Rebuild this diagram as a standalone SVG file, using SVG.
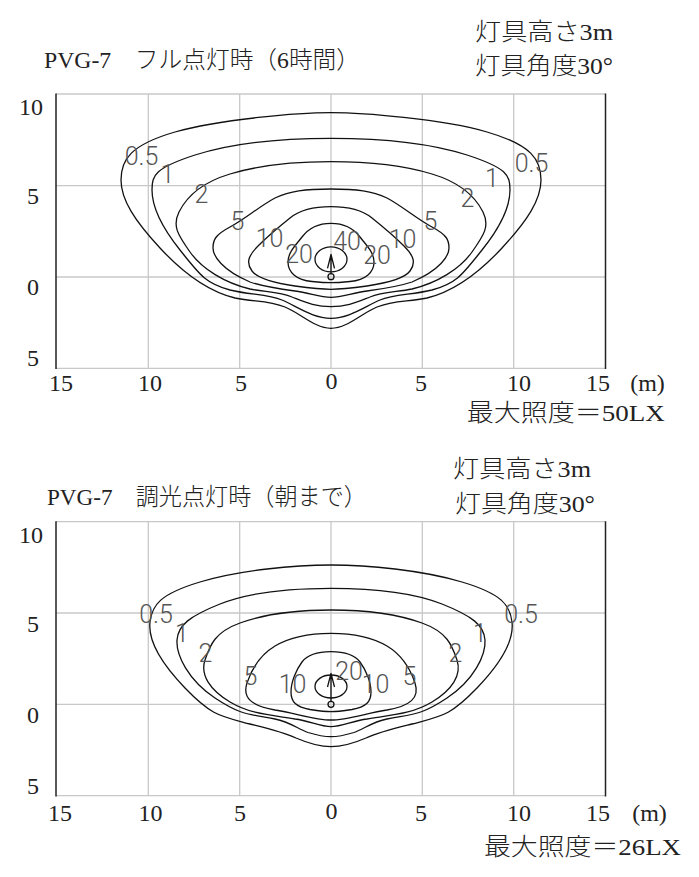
<svg xmlns="http://www.w3.org/2000/svg" width="699" height="877" viewBox="0 0 699 877">
<style>
.t{font-family:"Liberation Serif","Noto Sans CJK JP",serif;font-weight:300;fill:#222}
.ax{font-family:"Liberation Serif",serif;font-size:24px;fill:#222;text-anchor:middle}
.lb{font-family:Roboto,"Liberation Sans",sans-serif;font-weight:300;font-size:25px;fill:#555;text-anchor:middle}
.grid{stroke:#c8c8c8;stroke-width:1.3;fill:none}
.axis{stroke:#222;stroke-width:1.5}
.c{fill:none;stroke:#111;stroke-width:1.3;stroke-linejoin:round}
</style>
<defs>
<path id="a05" d="M331,112.7 C300,112.7 220,119 175,132 S121,160 121,180 S135,221 160,248 S210,292 235,298 C255,302 268,300 285,307 C300,313 315,328.3 331,328.3"/>
<path id="a1" d="M331,138.3 C290,138.3 235,142 195,155 S152,175 152,190 S160,225 180,250 S205,283 230,290 C250,295 268,294 282,300 C298,307 313,318.3 331,318.3"/>
<path id="a2" d="M331,161.7 C300,161.7 260,165 230,174 S186,198 179,212 S178,235 190,252 S225,283 250,289 C265,292 280,292 292,297 C305,302 315,306.7 331,306.7"/>
<path id="a5" d="M331,189 C305,189 290,191 275,198 C260,206 245,219 230,227 S213,240 213,248 S222,270 250,282 C265,287 280,289 295,291 C310,293 320,297.3 331,297.3"/>
<path id="a10" d="M331,206.7 C315,206.7 300,210 290,218 C280,226 268,236 258,246 S246,263 252,271 S275,283 295,286 C310,288 320,289.3 331,289.3"/>
<path id="a20" d="M331,223.3 C318,223.3 308,229 302,237 S288,252 288,262 S296,280 312,281.5 C320,282.3 326,282.7 331,282.7"/>
<path id="b05" d="M331,565 C295,565 240,570 200,582 S152,605 150,622 S158,660 185,688 S220,716 250,724 C270,729 283,732 296,738 C310,744 320,746.7 331,746.7"/>
<path id="b1" d="M331,588.3 C295,588.3 250,592 220,604 S178,625 177,640 S188,680 215,698 S250,714 275,719 C290,722 298,729 308,732.5 C318,735.5 325,736.7 331,736.7"/>
<path id="b2" d="M331,610 C300,610 265,614 240,623 S210,645 205,660 S210,690 230,702 S270,715 295,719 C310,721 320,726.7 331,726.7"/>
<path id="b5" d="M331,633.3 C310,633.3 290,637 275,646 S252,668 247,683 S252,706 275,710 C295,713 315,720 331,720"/>
<path id="b10" d="M331,651.7 C318,651.7 308,654 302,662 S291,682 291,692 S296,707 310,709.5 C320,711 326,711.7 331,711.7"/>
</defs>

<g id="chart-top">
<g id="top-grid">
<line class="grid" x1="56" y1="94" x2="605.5" y2="94"/>
<line class="grid" x1="56" y1="185.7" x2="605.5" y2="185.7"/>
<line class="grid" x1="56" y1="277" x2="605.5" y2="277"/>
<line class="grid" x1="56" y1="368.3" x2="605.5" y2="368.3"/>
<line class="grid" x1="148.3" y1="94" x2="148.3" y2="368.3"/>
<line class="grid" x1="239.7" y1="94" x2="239.7" y2="368.3"/>
<line class="grid" x1="331" y1="94" x2="331" y2="368.3"/>
<line class="grid" x1="422.3" y1="94" x2="422.3" y2="368.3"/>
<line class="grid" x1="513.7" y1="94" x2="513.7" y2="368.3"/>
<line class="axis" x1="56" y1="93.5" x2="56" y2="369"/>
<line class="axis" x1="605.5" y1="93.5" x2="605.5" y2="369" stroke="#444"/>
</g>
<g id="top-contours">
<use href="#a05" class="c"/><use href="#a1" class="c"/><use href="#a2" class="c"/><use href="#a5" class="c"/><use href="#a10" class="c"/><use href="#a20" class="c"/>
<g transform="matrix(-1 0 0 1 662 0)">
<use href="#a05" class="c"/><use href="#a1" class="c"/><use href="#a2" class="c"/><use href="#a5" class="c"/><use href="#a10" class="c"/><use href="#a20" class="c"/>
</g>
<ellipse class="c" cx="331" cy="259.3" rx="16" ry="12.5"/>
<circle class="c" cx="331" cy="276.7" r="3"/>
<path class="c" d="M331,273.7 V254.5 M327.5,268.3 L331,254.5 L334.5,268.3"/>
</g>
<g id="top-labels">
<text class="lb" x="141.5" y="165">0.5</text>
<text class="lb" x="167.5" y="183">1</text>
<text class="lb" x="201.5" y="203">2</text>
<text class="lb" x="237.5" y="230">5</text>
<text class="lb" x="269.5" y="246.7">10</text>
<text class="lb" x="299" y="263">20</text>
<text class="lb" x="347" y="250">40</text>
<text class="lb" x="377" y="264">20</text>
<text class="lb" x="402.5" y="248">10</text>
<text class="lb" x="430.5" y="230">5</text>
<text class="lb" x="467.5" y="206.7">2</text>
<text class="lb" x="492" y="186.7">1</text>
<text class="lb" x="531.5" y="171.7">0.5</text>
</g>
<g id="top-axis-text">
<text class="ax" x="31" y="115">10</text>
<text class="ax" x="33" y="204">5</text>
<text class="ax" x="33" y="295">0</text>
<text class="ax" x="33" y="366">5</text>
<text class="ax" x="61" y="391">15</text>
<text class="ax" x="150" y="391">10</text>
<text class="ax" x="241" y="391">5</text>
<text class="ax" x="331.5" y="389">0</text>
<text class="ax" x="421" y="391">5</text>
<text class="ax" x="519" y="391">10</text>
<text class="ax" x="598" y="391">15</text>
<text class="ax" x="647.5" y="391">(m)</text>
</g>
<g id="top-titles">
<text class="t" x="44" y="68" font-size="24" textLength="316" lengthAdjust="spacingAndGlyphs">PVG-7　フル点灯時（6時間）</text>
<text class="t" x="475" y="40" font-size="24" textLength="138" lengthAdjust="spacingAndGlyphs">灯具高さ3m</text>
<text class="t" x="475" y="73.5" font-size="24" textLength="138" lengthAdjust="spacingAndGlyphs">灯具角度30°</text>
<text class="t" x="466.7" y="421" font-size="24" textLength="198" lengthAdjust="spacingAndGlyphs">最大照度＝50LX</text>
</g>
</g>

<g id="chart-bottom">
<g id="bottom-grid">
<line class="grid" x1="56" y1="521.7" x2="605.5" y2="521.7"/>
<line class="grid" x1="56" y1="613" x2="605.5" y2="613"/>
<line class="grid" x1="56" y1="704.3" x2="605.5" y2="704.3"/>
<line class="grid" x1="56" y1="795.7" x2="605.5" y2="795.7"/>
<line class="grid" x1="148.3" y1="521.7" x2="148.3" y2="795.7"/>
<line class="grid" x1="239.7" y1="521.7" x2="239.7" y2="795.7"/>
<line class="grid" x1="331" y1="521.7" x2="331" y2="795.7"/>
<line class="grid" x1="422.3" y1="521.7" x2="422.3" y2="795.7"/>
<line class="grid" x1="513.7" y1="521.7" x2="513.7" y2="795.7"/>
<line class="axis" x1="56" y1="521.2" x2="56" y2="796.4"/>
<line class="axis" x1="605.5" y1="521.2" x2="605.5" y2="796.4" stroke="#444"/>
</g>
<g id="bottom-contours">
<use href="#b05" class="c"/><use href="#b1" class="c"/><use href="#b2" class="c"/><use href="#b5" class="c"/><use href="#b10" class="c"/>
<g transform="matrix(-1 0 0 1 662 0)">
<use href="#b05" class="c"/><use href="#b1" class="c"/><use href="#b2" class="c"/><use href="#b5" class="c"/><use href="#b10" class="c"/>
</g>
<ellipse class="c" cx="331" cy="686.5" rx="16" ry="11.5"/>
<circle class="c" cx="331" cy="704.3" r="3"/>
<path class="c" d="M331,701.3 V673.3 M327.5,687 L331,673.3 L334.5,687"/>
</g>
<g id="bottom-labels">
<text class="lb" x="156" y="623">0.5</text>
<text class="lb" x="182" y="642">1</text>
<text class="lb" x="205.5" y="662">2</text>
<text class="lb" x="250.5" y="685">5</text>
<text class="lb" x="292.5" y="693">10</text>
<text class="lb" x="349" y="680">20</text>
<text class="lb" x="375.5" y="693">10</text>
<text class="lb" x="409.5" y="685">5</text>
<text class="lb" x="455.5" y="662">2</text>
<text class="lb" x="480" y="642">1</text>
<text class="lb" x="521" y="623">0.5</text>
</g>
<g id="bottom-axis-text">
<text class="ax" x="31" y="542.5">10</text>
<text class="ax" x="33" y="631.5">5</text>
<text class="ax" x="33" y="722.5">0</text>
<text class="ax" x="33" y="794">5</text>
<text class="ax" x="60" y="821">15</text>
<text class="ax" x="150.5" y="821">10</text>
<text class="ax" x="240" y="821">5</text>
<text class="ax" x="331.5" y="819">0</text>
<text class="ax" x="421" y="821">5</text>
<text class="ax" x="519" y="821">10</text>
<text class="ax" x="598" y="821">15</text>
<text class="ax" x="649.5" y="821">(m)</text>
</g>
<g id="bottom-titles">
<text class="t" x="47" y="505" font-size="24" textLength="320" lengthAdjust="spacingAndGlyphs">PVG-7　調光点灯時（朝まで）</text>
<text class="t" x="453" y="477" font-size="24" textLength="138" lengthAdjust="spacingAndGlyphs">灯具高さ3m</text>
<text class="t" x="455" y="512" font-size="24" textLength="140" lengthAdjust="spacingAndGlyphs">灯具角度30°</text>
<text class="t" x="484" y="855" font-size="24" textLength="197" lengthAdjust="spacingAndGlyphs">最大照度＝26LX</text>
</g>
</g>
</svg>
